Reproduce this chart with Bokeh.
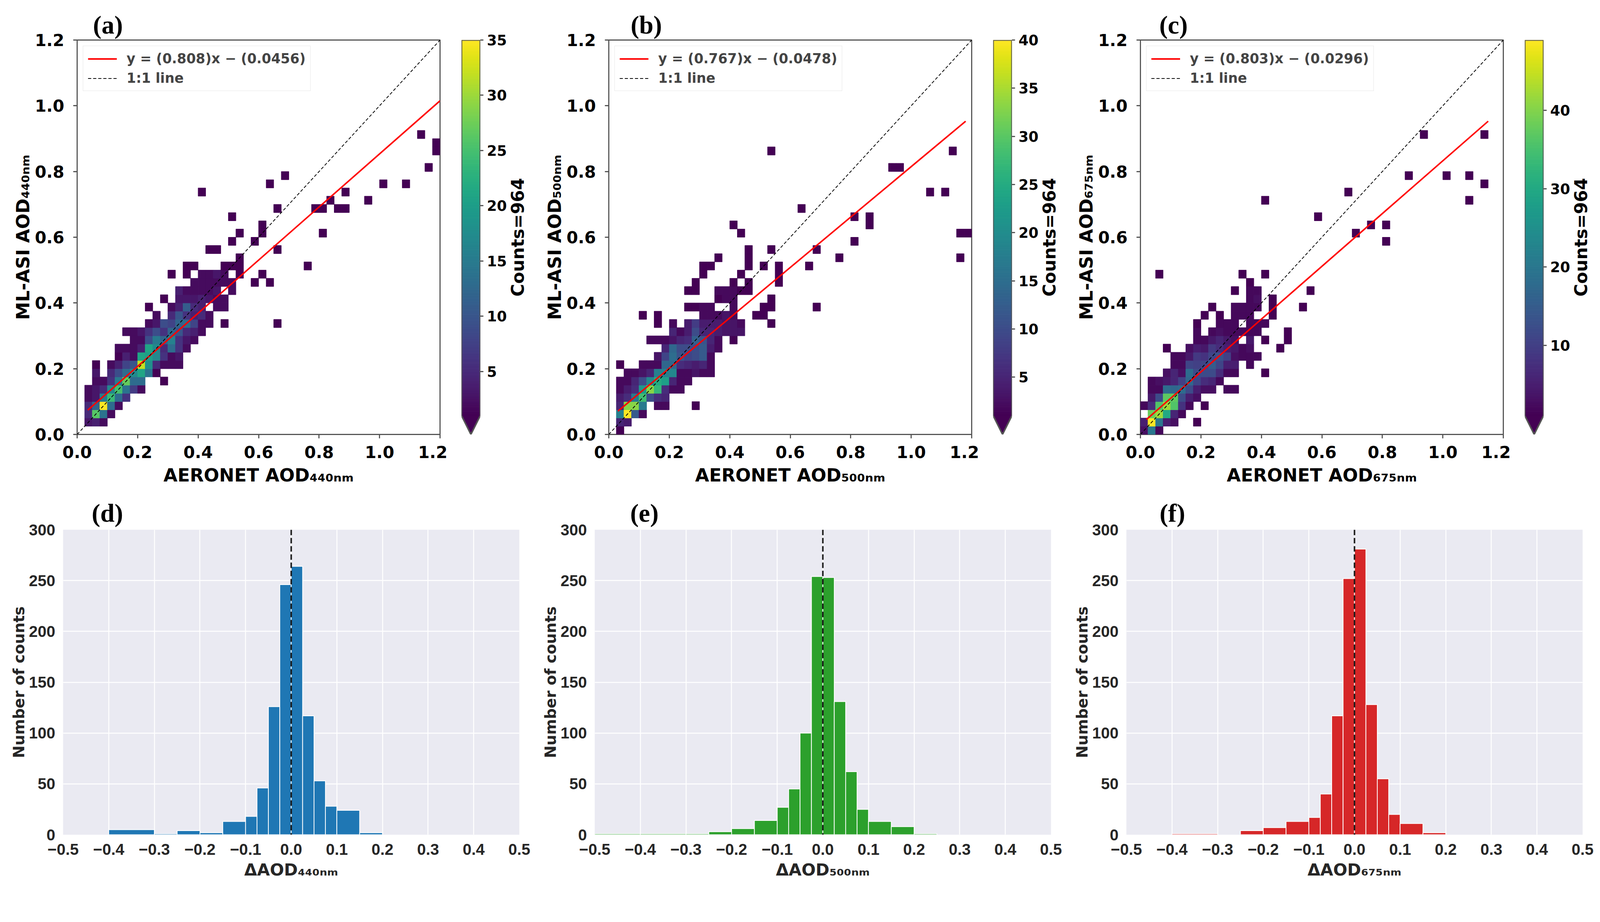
import numpy as np

from bokeh.embed import file_html
from bokeh.layouts import column, row
from bokeh.models import (ColumnDataSource, CustomJSTickFormatter, FixedTicker,
                          Legend, LegendItem, LinearColorMapper, Range1d, Span)
from bokeh.palettes import Viridis256
from bokeh.plotting import figure
from bokeh.resources import INLINE
from bokeh.transform import transform

# ---------------- data ----------------
BIN = 0.025   # 2-d histogram bin width (AOD units)

# 2-d histogram cells: (x bin, y bin, count)
a_cells = [
    (1, 1, 3), (2, 1, 4), (3, 1, 2),
    (1, 2, 5), (2, 2, 26), (3, 2, 14), (4, 2, 2),
    (1, 3, 5), (2, 3, 12), (3, 3, 35), (4, 3, 13), (5, 3, 2),
    (1, 4, 2), (2, 4, 3), (3, 4, 15), (4, 4, 24), (5, 4, 13), (6, 4, 6),
    (1, 5, 2), (2, 5, 3), (3, 5, 5), (4, 5, 17), (5, 5, 25), (6, 5, 14), (7, 5, 7), (8, 5, 2),
    (2, 6, 2), (3, 6, 2), (4, 6, 6), (5, 6, 15), (6, 6, 27), (7, 6, 13), (8, 6, 13), (11, 6, 1),
    (2, 7, 3), (4, 7, 5), (5, 7, 9), (6, 7, 13), (7, 7, 17), (8, 7, 21), (9, 7, 14), (10, 7, 1),
    (2, 8, 1), (4, 8, 2), (5, 8, 4), (6, 8, 8), (7, 8, 10), (8, 8, 32), (9, 8, 18), (10, 8, 5),
    (11, 8, 2), (12, 8, 2), (13, 8, 2),
    (5, 9, 1), (6, 9, 4), (7, 9, 2), (8, 9, 21), (9, 9, 20), (10, 9, 17), (11, 9, 6), (12, 9, 2),
    (13, 9, 3),
    (5, 10, 2), (6, 10, 2), (7, 10, 2), (8, 10, 4), (9, 10, 21), (10, 10, 17), (11, 10, 5),
    (12, 10, 13), (13, 10, 6), (14, 10, 2),
    (7, 11, 2), (8, 11, 2), (9, 11, 9), (10, 11, 15), (11, 11, 12), (12, 11, 16), (13, 11, 6),
    (14, 11, 3), (15, 11, 2),
    (6, 12, 2), (7, 12, 2), (8, 12, 3), (9, 12, 6), (10, 12, 9), (11, 12, 6), (12, 12, 12),
    (13, 12, 10), (14, 12, 5), (15, 12, 4), (16, 12, 2),
    (9, 13, 2), (10, 13, 3), (11, 13, 9), (12, 13, 8), (13, 13, 12), (14, 13, 13), (15, 13, 8),
    (16, 13, 2), (17, 13, 2), (19, 13, 1), (26, 13, 1),
    (10, 14, 2), (12, 14, 5), (13, 14, 10), (14, 14, 6), (15, 14, 4), (16, 14, 5), (17, 14, 2),
    (9, 15, 1), (12, 15, 2), (13, 15, 4), (14, 15, 11), (15, 15, 5), (16, 15, 4), (18, 15, 2),
    (19, 15, 2),
    (11, 16, 1), (13, 16, 3), (14, 16, 3), (15, 16, 3), (16, 16, 4), (17, 16, 3), (18, 16, 2),
    (19, 16, 2),
    (13, 17, 4), (14, 17, 2), (15, 17, 2), (16, 17, 2), (17, 17, 2), (18, 17, 3), (20, 17, 2),
    (15, 18, 2), (16, 18, 2), (17, 18, 2), (18, 18, 2), (19, 18, 2), (20, 18, 2), (23, 18, 1),
    (25, 18, 1),
    (12, 19, 1), (14, 19, 1), (16, 19, 2), (17, 19, 2), (18, 19, 3), (19, 19, 2), (21, 19, 1),
    (24, 19, 1),
    (14, 20, 1), (15, 20, 1), (19, 20, 1), (20, 20, 1), (21, 20, 1),
    (21, 21, 1), (17, 22, 1), (18, 22, 1), (26, 22, 1), (20, 23, 1), (23, 23, 1),
    (21, 24, 1), (24, 24, 1), (24, 25, 1), (20, 26, 1), (26, 27, 1),
    (16, 29, 1), (25, 30, 1), (27, 31, 1), (30, 20, 1), (31, 27, 1), (32, 27, 1), (33, 28, 1),
    (34, 27, 1), (35, 27, 1), (35, 29, 1), (32, 24, 1), (38, 28, 1), (40, 30, 1), (43, 30, 1),
    (45, 36, 1), (46, 32, 1), (47, 35, 1), (47, 34, 1),
]

b_cells = [
    (1, 0, 1),
    (1, 1, 5), (2, 1, 4),
    (1, 2, 18), (2, 2, 40), (3, 2, 12), (4, 2, 2),
    (1, 3, 5), (2, 3, 33), (3, 3, 33), (4, 3, 17), (6, 3, 2), (7, 3, 2), (11, 3, 1),
    (1, 4, 4), (2, 4, 6), (3, 4, 17), (4, 4, 28), (5, 4, 10), (6, 4, 6), (7, 4, 5),
    (1, 5, 2), (2, 5, 4), (3, 5, 6), (4, 5, 22), (5, 5, 33), (6, 5, 27), (7, 5, 6), (8, 5, 2),
    (9, 5, 2),
    (1, 6, 2), (2, 6, 2), (3, 6, 5), (4, 6, 10), (5, 6, 19), (6, 6, 25), (7, 6, 23), (8, 6, 5),
    (9, 6, 2), (10, 6, 2),
    (2, 7, 2), (3, 7, 2), (4, 7, 3), (5, 7, 5), (6, 7, 18), (7, 7, 18), (8, 7, 19), (9, 7, 2),
    (10, 7, 2), (11, 7, 3), (12, 7, 2), (13, 7, 2),
    (1, 8, 1), (4, 8, 2), (5, 8, 2), (6, 8, 2), (7, 8, 14), (8, 8, 14), (9, 8, 6), (10, 8, 5),
    (11, 8, 4), (12, 8, 5), (13, 8, 2),
    (6, 9, 3), (7, 9, 9), (8, 9, 15), (9, 9, 11), (10, 9, 9), (11, 9, 10), (12, 9, 12), (13, 9, 2),
    (7, 10, 5), (8, 10, 14), (9, 10, 10), (10, 10, 10), (11, 10, 10), (12, 10, 12), (13, 10, 4),
    (14, 10, 2),
    (5, 11, 2), (6, 11, 2), (7, 11, 2), (8, 11, 3), (9, 11, 5), (10, 11, 6), (11, 11, 13),
    (12, 11, 11), (13, 11, 5), (14, 11, 2), (16, 11, 1),
    (8, 12, 5), (9, 12, 2), (10, 12, 4), (11, 12, 10), (12, 12, 5), (13, 12, 5), (14, 12, 4),
    (15, 12, 3), (16, 12, 3), (17, 12, 3),
    (6, 13, 1), (8, 13, 2), (10, 13, 4), (11, 13, 8), (12, 13, 4), (13, 13, 4), (14, 13, 4),
    (15, 13, 3), (16, 13, 3), (17, 13, 2), (21, 13, 1),
    (4, 14, 1), (6, 14, 1), (12, 14, 2), (13, 14, 2), (14, 14, 2), (15, 14, 3), (16, 14, 2),
    (19, 14, 1), (20, 14, 1),
    (10, 15, 1), (11, 15, 1), (12, 15, 2), (13, 15, 2), (16, 15, 2), (20, 15, 1), (21, 15, 1),
    (27, 15, 1),
    (14, 16, 1), (15, 16, 2), (16, 16, 2), (21, 16, 1),
    (10, 17, 1), (11, 17, 1), (14, 17, 2), (15, 17, 2), (16, 17, 2), (17, 17, 1), (18, 17, 1),
    (11, 18, 1), (16, 18, 1), (18, 18, 1), (22, 18, 1),
    (12, 19, 1), (17, 19, 1), (22, 19, 1),
    (12, 20, 1), (13, 20, 1), (18, 20, 1), (20, 20, 1), (22, 20, 1), (26, 20, 1),
    (14, 21, 1), (18, 21, 1), (18, 22, 1), (21, 22, 1), (27, 22, 1),
    (17, 24, 1), (16, 25, 1), (25, 27, 1),
    (21, 34, 1), (45, 34, 1), (37, 32, 1), (38, 32, 1), (42, 29, 1), (44, 29, 1), (32, 26, 1),
    (34, 26, 1), (34, 25, 1), (32, 23, 1), (30, 21, 1), (46, 24, 1), (47, 24, 1), (46, 21, 1),
]

c_cells = [
    (0, 0, 3), (1, 0, 20), (2, 0, 2),
    (0, 1, 5), (1, 1, 49), (2, 1, 20), (3, 1, 5), (4, 1, 3), (7, 1, 1),
    (1, 2, 38), (2, 2, 42), (3, 2, 30), (4, 2, 6), (5, 2, 2),
    (0, 3, 2), (1, 3, 7), (2, 3, 36), (3, 3, 42), (4, 3, 36), (5, 3, 8), (6, 3, 2), (8, 3, 1),
    (1, 4, 4), (2, 4, 12), (3, 4, 37), (4, 4, 37), (5, 4, 12), (6, 4, 5), (7, 4, 3),
    (1, 5, 2), (2, 5, 2), (3, 5, 18), (4, 5, 17), (5, 5, 18), (6, 5, 12), (7, 5, 5), (8, 5, 3),
    (9, 5, 3), (11, 5, 2), (12, 5, 2),
    (1, 6, 2), (2, 6, 3), (3, 6, 4), (4, 6, 6), (5, 6, 10), (6, 6, 17), (7, 6, 11), (8, 6, 7),
    (9, 6, 6), (10, 6, 2),
    (3, 7, 3), (4, 7, 6), (5, 7, 3), (6, 7, 18), (7, 7, 12), (8, 7, 12), (9, 7, 12), (10, 7, 7),
    (11, 7, 2), (12, 7, 2), (16, 7, 1),
    (4, 8, 2), (5, 8, 2), (6, 8, 11), (7, 8, 10), (8, 8, 11), (9, 8, 15), (10, 8, 11), (11, 8, 5),
    (12, 8, 5), (14, 8, 2),
    (4, 9, 2), (5, 9, 2), (6, 9, 4), (7, 9, 9), (8, 9, 8), (9, 9, 11), (10, 9, 13), (11, 9, 10),
    (12, 9, 3), (13, 9, 2), (14, 9, 2), (15, 9, 2),
    (3, 10, 1), (6, 10, 3), (7, 10, 5), (8, 10, 4), (9, 10, 9), (10, 10, 7), (11, 10, 5),
    (12, 10, 4), (13, 10, 2), (14, 10, 3), (18, 10, 1),
    (7, 11, 2), (8, 11, 2), (9, 11, 4), (10, 11, 6), (11, 11, 4), (12, 11, 3), (14, 11, 4),
    (16, 11, 1), (19, 11, 1),
    (7, 12, 2), (9, 12, 2), (10, 12, 3), (11, 12, 2), (12, 12, 2), (13, 12, 2), (14, 12, 2),
    (15, 12, 2), (19, 12, 1),
    (7, 13, 1), (10, 13, 2), (11, 13, 2), (12, 13, 2), (14, 13, 2), (15, 13, 2), (16, 13, 2),
    (8, 14, 1), (10, 14, 1), (12, 14, 2), (13, 14, 2), (14, 14, 2), (17, 14, 1),
    (9, 15, 1), (12, 15, 2), (13, 15, 2), (14, 15, 2), (15, 15, 2), (17, 15, 1), (21, 15, 1),
    (14, 16, 2), (15, 16, 3), (17, 16, 1),
    (12, 17, 1), (14, 17, 2), (15, 17, 2), (22, 17, 1),
    (14, 18, 1), (2, 19, 1), (13, 19, 1), (16, 19, 1),
    (28, 24, 1), (23, 26, 1),
    (37, 36, 1), (45, 36, 1), (35, 31, 1), (40, 31, 1), (43, 31, 1), (45, 30, 1), (43, 28, 1),
    (27, 29, 1), (16, 28, 1), (30, 25, 1), (32, 25, 1), (32, 23, 1),
]

# linear fits (as drawn) and their x extent
a_fit = (0.808, 0.0456, 0.035, 1.20)
b_fit = (0.767, 0.0478, 0.030, 1.18)
c_fit = (0.803, 0.0296, 0.020, 1.15)
a_fit_label = "y = (0.808)x \u2212 (0.0456)"
b_fit_label = "y = (0.767)x \u2212 (0.0478)"
c_fit_label = "y = (0.803)x \u2212 (0.0296)"

one_to_one = [0.0, 1.2]
aod_ticks = [0.0, 0.2, 0.4, 0.6, 0.8, 1.0, 1.2]
a_cbar_ticks = [5, 10, 15, 20, 25, 30, 35]
b_cbar_ticks = [5, 10, 15, 20, 25, 30, 35, 40]
c_cbar_ticks = [10, 20, 30, 40]
n_total = 964

# error histograms (shared bin edges)
hist_edges = [-0.5, -0.4, -0.3, -0.25, -0.2, -0.15, -0.1, -0.075, -0.05, -0.025, 0.0,
              0.025, 0.05, 0.075, 0.1, 0.15, 0.2, 0.25, 0.3, 0.4, 0.5]
d_counts = [0, 5, 1, 4, 2, 13, 18, 46, 126, 246, 264, 117, 53, 28, 24, 2, 0, 0, 0, 0]
e_counts = [1, 1, 1, 3, 6, 14, 27, 45, 100, 254, 253, 131, 62, 25, 13, 8, 1, 0, 0, 0]
f_counts = [0, 1, 0, 4, 7, 13, 17, 40, 117, 252, 281, 128, 55, 20, 11, 2, 0, 0, 0, 0]
hist_xticks = [-0.5, -0.4, -0.3, -0.2, -0.1, 0.0, 0.1, 0.2, 0.3, 0.4, 0.5]
hist_yticks = [0, 50, 100, 150, 200, 250, 300]

# ---------------- styling ----------------
S = 1 / 1.036         # the page is photographed slightly enlarged
SANS = "DejaVu Sans"
SERIF = "Liberation Serif"
GREY = "#555555"


def px(v):
    return int(round(v * S))


def fs(v):
    return "%.1fpx" % (v * S)


def scatter_panel(cells, fit, fit_label, wl, tag, tag_dx, cticks):
    ix, iy, n = zip(*cells)
    src = ColumnDataSource(dict(
        left=[i * BIN for i in ix], right=[(i + 1) * BIN for i in ix],
        bottom=[j * BIN for j in iy], top=[(j + 1) * BIN for j in iy], n=list(n)))
    lo, hi = 1, max(n)
    mapper = LinearColorMapper(palette=Viridis256, low=lo, high=hi)

    fig_h = px(1292)
    b_top, b_bot = px(106), px(140)
    main_w = px(1186)
    p = figure(width=main_w, height=fig_h, x_range=Range1d(0, 1.2),
               y_range=Range1d(0, 1.2), min_border_left=px(204), min_border_right=px(20),
               min_border_top=b_top, min_border_bottom=b_bot,
               toolbar_location=None, output_backend="svg")
    p.grid.visible = False
    p.outline_line_color = GREY
    p.outline_line_width = 3 * S

    p.title.text = tag
    p.title.align = "left"
    p.title.offset = (tag_dx - 40) * S
    p.title.standoff = 6 * S
    p.title.text_font = SERIF
    p.title.text_font_style = "bold"
    p.title.text_font_size = fs(68)
    p.title.text_color = "black"

    p.quad(left="left", right="right", bottom="bottom", top="top", source=src,
           fill_color=transform("n", mapper), line_color=transform("n", mapper),
           line_width=1)

    slope, icpt, x0, x1 = fit
    fx = [x0, x1]
    fy = [slope * x0 + icpt, slope * x1 + icpt]
    r_fit = p.line(fx, fy, line_color="red", line_width=4 * S)
    r_one = p.line(one_to_one, one_to_one, line_color="black", line_width=2 * S,
                   line_dash="8 5")

    leg = Legend(items=[LegendItem(label=fit_label, renderers=[r_fit]),
                        LegendItem(label="1:1 line", renderers=[r_one])],
                 location="top_left")
    leg.margin = px(16)
    leg.padding = px(12)
    leg.spacing = px(10)
    leg.glyph_width = px(77)
    leg.glyph_height = px(40)
    leg.label_height = px(40)
    leg.label_standoff = px(26)
    leg.label_text_font = SANS
    leg.label_text_font_style = "bold"
    leg.label_text_font_size = fs(36)
    leg.border_line_color = "#d0d0d0"
    leg.border_line_width = 2 * S
    leg.background_fill_alpha = 0.85
    p.add_layout(leg)

    for ax in (p.xaxis, p.yaxis):
        ax.ticker = FixedTicker(ticks=aod_ticks)
        ax.formatter = CustomJSTickFormatter(code="return tick.toFixed(1);")
        ax.axis_line_color = None
        ax.major_tick_out = px(10)
        ax.major_tick_in = 0
        ax.major_tick_line_width = 3 * S
        ax.major_tick_line_color = GREY
        ax.minor_tick_line_color = None
        ax.major_label_text_font = SANS
        ax.major_label_text_font_style = "bold"
        ax.major_label_text_font_size = fs(44)
        ax.major_label_text_color = "black"
        ax.axis_label_text_font = SANS
        ax.axis_label_text_font_style = "bold"
        ax.axis_label_text_font_size = fs(48)
        ax.axis_label_text_color = "black"
    p.xaxis.major_label_standoff = px(20)
    p.xaxis.axis_label_standoff = px(14)
    p.yaxis.major_label_standoff = px(24)
    p.yaxis.axis_label_standoff = 0
    p.xaxis.axis_label = "AERONET AOD" + wl
    p.yaxis.axis_label = "ML-ASI AOD" + wl

    # colour bar with a "min" extension triangle; ticks on a right-hand axis
    cb_w = px(161)
    cb_left = px(37)
    bar_w = px(51)
    tip = lo - 0.05 * (hi - lo)
    cb = figure(width=cb_w, height=fig_h, x_range=Range1d(0, 1), y_range=Range1d(tip, hi),
                min_border_left=cb_left, min_border_right=cb_w - cb_left - bar_w,
                min_border_top=b_top, min_border_bottom=b_bot,
                x_axis_location=None, y_axis_location="right",
                toolbar_location=None, output_backend="svg")
    cb.grid.visible = False
    cb.outline_line_color = None
    levels = np.linspace(lo, hi, len(Viridis256) + 1)
    cb.quad(left=0, right=1, bottom=levels[:-1], top=levels[1:],
            fill_color=list(Viridis256), line_color=list(Viridis256), line_width=1)
    cb.patch([0, 1, 0.5], [lo, lo, tip], fill_color=Viridis256[0], line_color=Viridis256[0])
    cb.patch([0, 0, 1, 1, 0.5], [lo, hi, hi, lo, tip], fill_color=None,
             line_color=GREY, line_width=4 * S)
    ax = cb.yaxis
    ax.ticker = FixedTicker(ticks=cticks)
    ax.axis_line_color = None
    ax.major_tick_out = px(8)
    ax.major_tick_in = 0
    ax.major_tick_line_width = 3 * S
    ax.major_tick_line_color = GREY
    ax.minor_tick_line_color = None
    ax.major_label_standoff = px(9)
    ax.major_label_text_font = SANS
    ax.major_label_text_font_style = "bold"
    ax.major_label_text_font_size = fs(38)
    ax.major_label_text_color = "black"

    # colour-bar title, written bottom-to-top in its own narrow frame
    lab_w = px(1410) - main_w - cb_w
    lab = figure(width=lab_w, height=fig_h, x_range=Range1d(0, lab_w), y_range=Range1d(0, 1),
                 min_border_left=0, min_border_right=0,
                 min_border_top=b_top, min_border_bottom=b_bot,
                 x_axis_location=None, y_axis_location=None,
                 toolbar_location=None, output_backend="svg")
    lab.grid.visible = False
    lab.outline_line_color = None
    lab.text(x=[26 * S], y=[0.5], text=["Counts=%d" % n_total], angle=np.pi / 2,
             text_font=dict(value=SANS), text_font_style="bold", text_font_size=fs(46),
             text_baseline="middle", text_align="center", text_color="black")
    return row(p, cb, lab, spacing=0)


def hist_panel(counts, color, wl, tag, tag_dx):
    p = figure(width=px(1410), height=px(1047), x_range=Range1d(-0.5, 0.5),
               y_range=Range1d(0, 300), min_border_left=px(167), min_border_right=px(33),
               min_border_top=px(113), min_border_bottom=px(125),
               toolbar_location=None, output_backend="svg")
    p.background_fill_color = "#EAEAF2"
    p.outline_line_color = None
    p.grid.grid_line_color = "white"
    p.grid.grid_line_width = 2.5 * S
    p.xgrid.ticker = FixedTicker(ticks=hist_xticks)
    p.ygrid.ticker = FixedTicker(ticks=hist_yticks)

    p.title.text = tag
    p.title.align = "left"
    p.title.offset = (tag_dx - 41) * S
    p.title.standoff = 14 * S
    p.title.text_font = SERIF
    p.title.text_font_style = "bold"
    p.title.text_font_size = fs(68)
    p.title.text_color = "black"

    keep = [k for k, c in enumerate(counts) if c > 0]
    src = ColumnDataSource(dict(left=[hist_edges[k] for k in keep],
                                right=[hist_edges[k + 1] for k in keep],
                                top=[counts[k] for k in keep]))
    p.quad(left="left", right="right", top="top", bottom=0, source=src,
           fill_color=color, line_color="white", line_width=2 * S)
    p.add_layout(Span(location=0.0, dimension="height", line_color="#1a1a1a",
                      line_width=4 * S, line_dash="14 7"))

    p.xaxis.ticker = FixedTicker(ticks=hist_xticks)
    p.yaxis.ticker = FixedTicker(ticks=hist_yticks)
    p.xaxis.formatter = CustomJSTickFormatter(
        code="return (tick < -1e-9 ? '\u2212' : '') + Math.abs(tick).toFixed(1);")
    for ax in (p.xaxis, p.yaxis):
        ax.axis_line_color = None
        ax.major_tick_line_color = None
        ax.minor_tick_line_color = None
        ax.major_label_text_font = "Liberation Sans"
        ax.major_label_text_font_style = "bold"
        ax.major_label_text_font_size = fs(42)
        ax.major_label_text_color = "#262626"
        ax.axis_label_text_font = SANS
        ax.axis_label_text_font_style = "bold"
        ax.axis_label_text_color = "#262626"
    p.xaxis.axis_label_text_font_size = fs(44)
    p.yaxis.axis_label_text_font_size = fs(40)
    p.xaxis.major_label_standoff = px(18)
    p.yaxis.major_label_standoff = px(15)
    p.xaxis.axis_label_standoff = px(11)
    p.yaxis.axis_label_standoff = 0
    p.xaxis.axis_label = "\u0394AOD" + wl
    p.yaxis.axis_label = "Number of counts"
    return p


SUB440 = "\u2084\u2084\u2080\u2099\u2098"
SUB500 = "\u2085\u2080\u2080\u2099\u2098"
SUB675 = "\u2086\u2087\u2085\u2099\u2098"

top = row(
    scatter_panel(a_cells, a_fit, a_fit_label, SUB440, "(a)", 82, a_cbar_ticks),
    scatter_panel(b_cells, b_fit, b_fit_label, SUB500, "(b)", 98, b_cbar_ticks),
    scatter_panel(c_cells, c_fit, c_fit_label, SUB675, "(c)", 90, c_cbar_ticks),
    spacing=0)
bottom = row(
    hist_panel(d_counts, "#1f77b4", SUB440, "(d)", 117),
    hist_panel(e_counts, "#2ca02c", SUB500, "(e)", 135),
    hist_panel(f_counts, "#d62728", SUB675, "(f)", 129),
    spacing=0)
page = column(top, bottom, spacing=0)

open("out.html", "w").write(file_html(page, INLINE, title="AOD evaluation"))
